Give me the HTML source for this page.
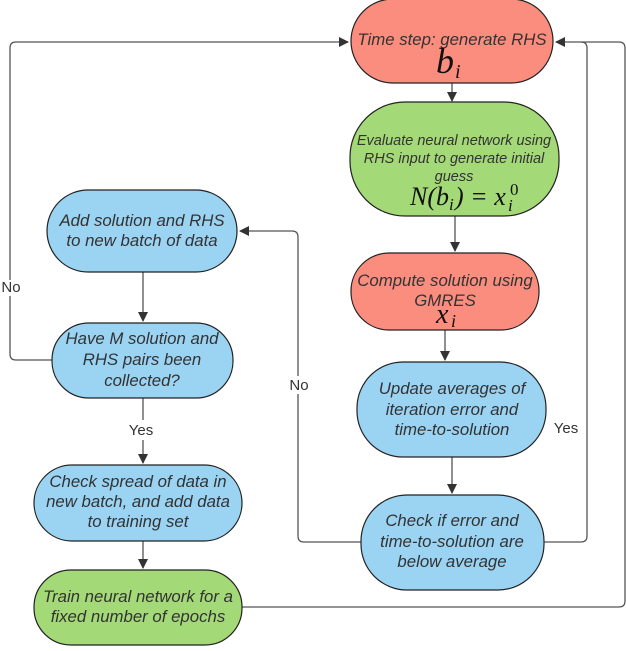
<!DOCTYPE html>
<html><head><meta charset="utf-8"><style>
html,body{margin:0;padding:0;background:#fff;}
svg text{font-family:"Liberation Sans",sans-serif;font-style:italic;fill:#333;font-size:16.8px;}
.s{font-size:14.5px;}
.m{font-family:"Liberation Serif",serif;font-size:26px;fill:#111;font-style:italic;}
.l{font-style:normal;font-size:15px;fill:#333;}
</style></head><body>
<svg width="626" height="646" viewBox="0 0 626 646" xmlns="http://www.w3.org/2000/svg">
<defs><marker id="a" markerWidth="10" markerHeight="10" refX="9" refY="5" orient="auto" markerUnits="userSpaceOnUse"><path d="M0,0 L10,5 L0,10 z" fill="#333"/></marker></defs>
<g fill="none" stroke="#555" stroke-width="1.3">
<path d="M52,360 H16 Q10,360 10,354 V48 Q10,42 16,42 H348" marker-end="url(#a)"/>
<path d="M240,607 H619 Q625,607 625,601 V48 Q625,42 619,42 H556" marker-end="url(#a)"/>
<path d="M544,542 H581 Q587,542 587,536 V48 Q587,42 581,42"/>
<path d="M361,542 H304 Q298,542 298,536 V237 Q298,231 292,231 H240" marker-end="url(#a)"/>
<path d="M452,83 V101" marker-end="url(#a)"/>
<path d="M455,216 V251" marker-end="url(#a)"/>
<path d="M445,330 V360" marker-end="url(#a)"/>
<path d="M452,457 V493" marker-end="url(#a)"/>
<path d="M143,272 V321" marker-end="url(#a)"/>
<path d="M143,398 V420 M143,440 V463" marker-end="url(#a)"/>
<path d="M143,541 V568" marker-end="url(#a)"/>
</g>
<g stroke="#222" stroke-width="1.2">
<rect x="351" y="-1" width="202" height="84" rx="42" fill="#fb8d7f"/>
<rect x="350" y="102" width="209" height="114" rx="55" fill="#a3d977"/>
<rect x="351" y="253" width="188" height="77" rx="38" fill="#fb8d7f"/>
<rect x="357" y="362" width="189" height="95" rx="46" fill="#9bd3f3"/>
<rect x="361" y="495" width="183" height="95" rx="46" fill="#9bd3f3"/>
<rect x="47" y="190" width="190" height="82" rx="41" fill="#9bd3f3"/>
<rect x="52" y="323" width="181" height="75" rx="37" fill="#9bd3f3"/>
<rect x="34" y="465" width="208" height="76" rx="38" fill="#9bd3f3"/>
<rect x="34" y="570" width="208" height="75" rx="37" fill="#a3d977"/>
</g>
<g text-anchor="middle">
<text x="452" y="45">Time step: generate RHS</text>
<text x="454" y="145" class="s">Evaluate neural network using</text>
<text x="454" y="163" class="s">RHS input to generate initial</text>
<text x="454" y="181" class="s">guess</text>
<text x="445" y="286">Compute solution using</text>
<text x="445" y="306">GMRES</text>
<text x="452" y="394">Update averages of</text>
<text x="452" y="415">iteration error and</text>
<text x="452" y="435">time-to-solution</text>
<text x="452" y="526">Check if error and</text>
<text x="452" y="547">time-to-solution are</text>
<text x="452" y="567">below average</text>
<text x="142" y="226">Add solution and RHS</text>
<text x="142" y="246">to new batch of data</text>
<text x="142" y="344">Have M solution and</text>
<text x="142" y="365">RHS pairs been</text>
<text x="142" y="386">collected?</text>
<text x="138" y="487">Check spread of data in</text>
<text x="138" y="507">new batch, and add data</text>
<text x="138" y="527">to training set</text>
<text x="138" y="602">Train neural network for a</text>
<text x="138" y="622">fixed number of epochs</text>
</g>
<text class="m" x="436" y="73" style="font-size:36px">b</text>
<text class="m" x="455" y="78" style="font-size:20px">i</text>
<text class="m" x="410" y="205">N(b</text>
<text class="m" x="449" y="210" style="font-size:17px">i</text>
<text class="m" x="455" y="205">) = x</text>
<text class="m" x="508" y="211" style="font-size:17px">i</text>
<text class="m" x="510" y="195" style="font-size:17px;font-style:normal">0</text>
<text class="m" x="436" y="323" style="font-size:28px">x</text>
<text class="m" x="451" y="327" style="font-size:18px">i</text>
<rect x="0" y="280" width="22" height="16" fill="#fff"/>
<text class="l" x="11" y="292" text-anchor="middle">No</text>
<rect x="288" y="376" width="22" height="18" fill="#fff"/>
<text class="l" x="299" y="390" text-anchor="middle">No</text>
<text class="l" x="141" y="435" text-anchor="middle">Yes</text>
<text class="l" x="566" y="433" text-anchor="middle">Yes</text>
</svg>
</body></html>
